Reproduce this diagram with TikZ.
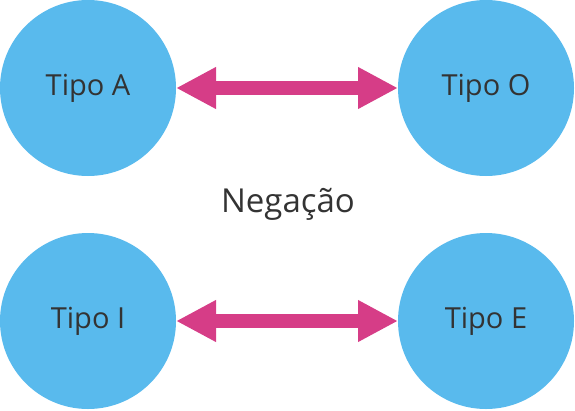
\documentclass[tikz,border=0pt]{standalone}
\usepackage{fontspec}
\setmainfont{Open Sans}
\usetikzlibrary{arrows.meta, positioning}
\definecolor{tipoblue}{HTML}{59BAED}
\definecolor{negpink}{HTML}{D63D87}
\definecolor{txtgrey}{HTML}{333333}
\newcommand\py{0}

\begin{document}
\begin{tikzpicture}[x=1pt, y=-1pt,
    tipo/.style={circle, fill=tipoblue, minimum size=176pt, inner sep=0pt, outer sep=0pt, text=txtgrey, font=\fontsize{29}{34}\selectfont},
    neg/.style={draw=negpink, line width=14pt, {Triangle[length=40pt, width=39pt]}-{Triangle[length=40pt, width=39pt]}}]
    \useasboundingbox (0, 0) rectangle (575, 410);

    % Tipos
    \node at (88, \py + 88) [tipo] (ta) {Tipo A};
    \node at (486, \py + 88) [tipo] (to) {Tipo O};
    \node at (88, \py + 321) [tipo] (ti) {Tipo I};
    \node at (486, \py + 321) [tipo] (te) {Tipo E};

    % Negação
    \node at (288, \py + 204) [text=txtgrey, font=\fontsize{33}{38}\selectfont] (neg) {Negação};
    \draw[neg] (ta.east) -- (to.west);
    \draw[neg] (ti.east) -- (te.west);
\end{tikzpicture}
\end{document}
